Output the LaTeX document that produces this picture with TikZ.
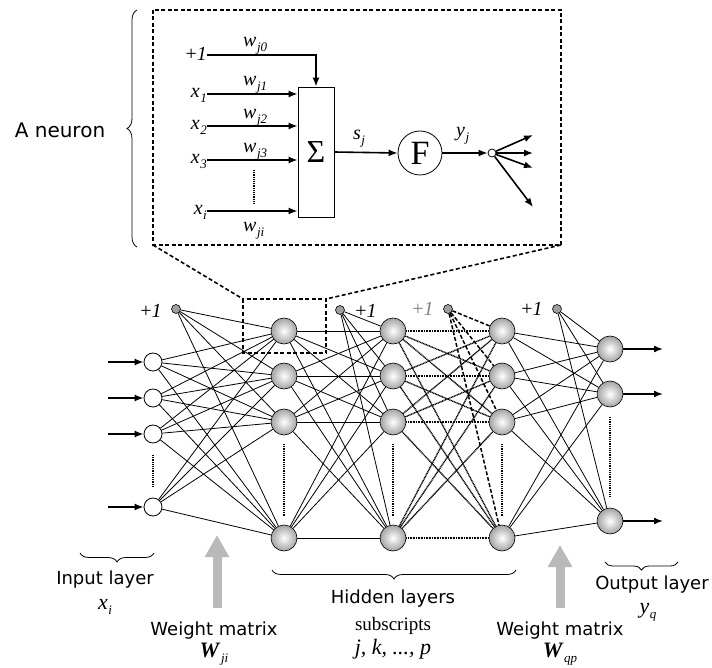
\documentclass[tikz,border=0pt]{standalone}
\usepackage{fontspec}
\setmainfont{Liberation Serif}
\newfontfamily\sansf{DejaVu Sans}
\usetikzlibrary{arrows.meta,decorations.pathreplacing,calc}
\newcommand{\isub}[2]{\textit{#1}\kern0.5pt\raisebox{-5pt}{\fontsize{13pt}{13pt}\selectfont\textit{#2}}}
\begin{document}
\begin{tikzpicture}[x=1pt,y=-1pt,
  lbl/.style={font=\fontsize{20pt}{22pt}\selectfont, inner sep=0pt},
  blbl/.style={font=\fontsize{22pt}{24pt}\selectfont, inner sep=0pt},
  slbl/.style={font=\sansf\fontsize{18pt}{20pt}\selectfont, inner sep=0pt},
  ballnode/.style={circle, draw, line width=0.6pt, minimum size=26pt, inner sep=0pt, inner color=white, outer color=gray!72},
  innode/.style={circle, draw, line width=0.8pt, fill=white, minimum size=18pt, inner sep=0pt},
  biasnode/.style={circle, draw, line width=0.6pt, fill=gray!75, minimum size=9pt, inner sep=0pt},
  conn/.style={line width=0.8pt},
  dotconn/.style={line width=1.4pt, dash pattern=on 1pt off 0.6pt},
  dashconn/.style={line width=1.5pt, dash pattern=on 4pt off 2pt},
  thickarrow/.style={line width=1.6pt, -{Latex[length=9pt,width=7pt]}},
  grayarrow/.style={line width=9pt, draw=gray!55, -{Triangle[length=22pt,width=23pt]}},
  nbox/.style={line width=1.6pt, dash pattern=on 4pt off 2.5pt},
  vdots/.style={line width=1.2pt, densely dotted},
  bracestyle/.style={decorate, line width=0.8pt}
]
\useasboundingbox (0,0) rectangle (712,668);

% ---------------- neuron detail ----------------
\node[draw, line width=0.8pt, minimum width=36pt, minimum height=130pt, inner sep=0pt,
      font=\fontsize{32pt}{32pt}\selectfont] (sig) at (316,152) {Σ};
\node[circle, draw, line width=0.8pt, minimum size=44pt, inner sep=0pt,
      font=\fontsize{34pt}{34pt}\selectfont] (F) at (420,153) {F};
\node[circle, draw, line width=0.8pt, fill=white, minimum size=8pt, inner sep=0pt] (sm) at (492,153) {};

\coordinate (n0) at (207,55);
\coordinate (n1) at (207,94);
\coordinate (n2) at (207,126);
\coordinate (n3) at (207,160);
\coordinate (n4) at (207,211);

\node[lbl, anchor=base east] (l0) at (207,61) {+\textit{1}};
\node[lbl, anchor=base east] (l1) at (207,98) {\isub{x}{1}};
\node[lbl, anchor=base east] (l2) at (207,130) {\isub{x}{2}};
\node[lbl, anchor=base east] (l3) at (207,164) {\isub{x}{3}};
\node[lbl, anchor=base east] (l4) at (207,215) {\isub{x}{i}};

\node[lbl, anchor=base west] (w0) at (243,47) {\isub{w}{j0}};
\node[lbl, anchor=base west] (w1) at (243,86) {\isub{w}{j1}};
\node[lbl, anchor=base west] (w2) at (243,119) {\isub{w}{j2}};
\node[lbl, anchor=base west] (w3) at (243,153) {\isub{w}{j3}};
\node[lbl, anchor=base west] (w4) at (243,232) {\isub{w}{ji}};

\draw[thickarrow] (n0) -| (sig.north);
\foreach \k in {1,2,3,4} \draw[thickarrow] (n\k) -- (n\k -| sig.west);
\coordinate (vd1) at (254,170);
\coordinate (vd2) at (254,204);
\draw[vdots] (vd1) -- (vd2);

\draw[thickarrow] (sig.east) -- (F.west);
\draw[thickarrow] (F.east) -- (sm.west);
\node[lbl, anchor=base west] (sj) at (353,140) {\isub{s}{j}};
\node[lbl, anchor=base west] (yj) at (456,137) {\isub{y}{j}};

\coordinate (f1) at (533,135);
\coordinate (f2) at (533,153);
\coordinate (f3) at (533,168);
\coordinate (f4) at (533,207);
\foreach \k in {1,2,3,4} \draw[thickarrow] (sm) -- (f\k);

% neuron box and zoom lines
\coordinate (NBa) at (153,10);
\coordinate (NBb) at (561,245);
\coordinate (NBc) at (153,245);
\coordinate (SBa) at (243,299);
\coordinate (SBb) at (326,353);
\coordinate (SBc) at (326,299);
\draw[nbox] (NBa) rectangle (NBb);

\draw[bracestyle, decoration={brace, amplitude=10pt}] (137,247) -- (137,10);
\node[font=\sansf\fontsize{20pt}{22pt}\selectfont, inner sep=0pt] (an) at (60,130) {A neuron};

% ---------------- network ----------------
\foreach \i/\y in {1/362,2/398,3/434,4/507} {
  \node[innode] (i\i) at (153,\y) {};
  \coordinate (ia\i) at (108,\y);
}
\foreach \i/\y in {1/331,2/376,3/422,4/538} {
  \node[ballnode] (a\i) at (284,\y) {};
  \node[ballnode] (b\i) at (393,\y) {};
  \node[ballnode] (c\i) at (502,\y) {};
}
\foreach \i/\y in {1/349,2/394,3/521} {
  \node[ballnode] (o\i) at (610,\y) {};
  \coordinate (oa\i) at (663,\y);
}
\node[biasnode] (p1) at (176,309) {};
\node[biasnode] (p2) at (340,310) {};
\node[biasnode] (p3) at (448,309) {};
\node[biasnode] (p4) at (557,309) {};

\node[lbl, anchor=base] (t1) at (151,317) {+\textit{1}};
\node[lbl, anchor=base] (t2) at (366,317) {+\textit{1}};
\node[lbl, anchor=base, text=gray] (t3) at (423,316) {+\textit{1}};
\node[lbl, anchor=base] (t4) at (532,316) {+\textit{1}};

\foreach \s in {i1,i2,i3,i4,p1} \foreach \t in {a1,a2,a3,a4} \draw[conn] (\s) -- (\t);
\foreach \s in {a1,a2,a3,a4,p2} \foreach \t in {b1,b2,b3,b4} \draw[conn] (\s) -- (\t);
\foreach \s in {b1,b2,b3,b4} \foreach \t in {c1,c2,c3,c4} \draw[dotconn] (\s) -- (\t);
\foreach \t in {c1,c2,c3,c4} \draw[dashconn] (p3) -- (\t);
\foreach \s in {c1,c2,c3,c4,p4} \foreach \t in {o1,o2,o3} \draw[conn] (\s) -- (\t);

\foreach \i in {1,2,3,4} \draw[thickarrow] (ia\i) -- (i\i);
\foreach \i in {1,2,3} \draw[thickarrow] (o\i) -- (oa\i);

% dotted verticals
\draw[vdots] (153,455) -- (153,487);
\foreach \x in {284,393,502} \draw[vdots] (\x,444) -- (\x,516);
\draw[vdots] (610,417) -- (610,498);

% small dashed box and zoom lines
\draw[nbox] (SBa) rectangle (SBb);
\draw[nbox] (NBc) -- (SBa);
\draw[nbox] (NBb) -- (SBc);

% ---------------- bottom labels ----------------
\draw[bracestyle, decoration={brace, amplitude=9pt}] (154,553) -- (80,553);
\draw[bracestyle, decoration={brace, amplitude=9pt}] (516,570) -- (272,570);
\draw[bracestyle, decoration={brace, amplitude=8pt}] (678,562) -- (605,562);

\coordinate (g1a) at (217,608);
\coordinate (g1b) at (217,535);
\coordinate (g2a) at (560,608);
\coordinate (g2b) at (560,545);
\draw[grayarrow] (g1a) -- (g1b);
\draw[grayarrow] (g2a) -- (g2b);

\node[slbl, anchor=base] (il) at (105,584) {Input layer};
\node[blbl, anchor=base] (xi) at (105,609) {\isub{x}{i}};
\node[slbl, anchor=base] (wm1) at (214,635) {Weight matrix};
\node[blbl, anchor=base] (W1) at (214,657) {\isub{\textbf{W}}{ji}};
\node[slbl, anchor=base] (hl) at (393,603) {Hidden layers};
\node[lbl, anchor=base, font=\fontsize{19pt}{20pt}\selectfont] (sub) at (393,630) {subscripts};
\node[blbl, anchor=base] (jk) at (393,654) {\textit{j, k, ..., p}};
\node[slbl, anchor=base] (wm2) at (560,635) {Weight matrix};
\node[blbl, anchor=base] (W2) at (560,657) {\isub{\textbf{W}}{qp}};
\node[slbl, anchor=base] (ol) at (652,589) {Output layer};
\node[blbl, anchor=base] (yq) at (648,613) {\isub{y}{q}};
\end{tikzpicture}
\end{document}
